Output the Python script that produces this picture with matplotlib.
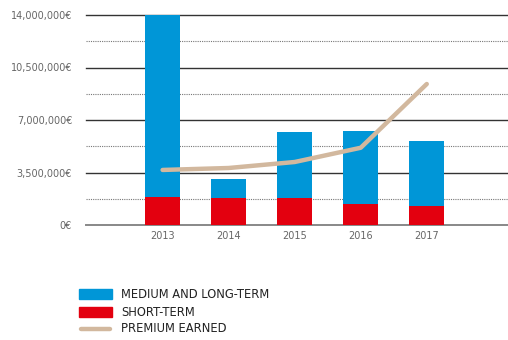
import matplotlib
matplotlib.use("Agg")
import matplotlib.pyplot as plt
from matplotlib.patches import Rectangle
from matplotlib.lines import Line2D

years = ["2013", "2014", "2015", "2016", "2017"]
short_term = [1.87e6, 1.82e6, 1.80e6, 1.42e6, 1.27e6]
medium_long_term = [12.13e6, 1.25e6, 4.40e6, 4.85e6, 4.33e6]
premium_earned = [3.67e6, 3.80e6, 4.20e6, 5.15e6, 9.40e6]
y_ticks = [0, 3.5e6, 7e6, 10.5e6, 14e6]
y_minor = [1.75e6, 5.25e6, 8.75e6, 12.25e6]
legend_labels = ["MEDIUM AND LONG-TERM", "SHORT-TERM", "PREMIUM EARNED"]

BLUE = "#0096d7"
RED = "#e3000f"
TAN = "#d2b89e"
FONT = "DejaVu Sans"

W, H = 508, 340
fig = plt.figure(figsize=(W / 100, H / 100), dpi=100)
ax = fig.add_axes([86 / W, 1 - 225 / H, 1 - 86 / W, 210 / H])

x = list(range(len(years)))
ax.bar(x, short_term, width=0.53, color=RED, zorder=3)
ax.bar(x, medium_long_term, width=0.53, bottom=short_term, color=BLUE, zorder=3)
ax.plot(x, premium_earned, color=TAN, lw=3.2, solid_capstyle="round",
        solid_joinstyle="round", zorder=4)

for v in y_ticks:
    ax.axhline(v, color="#333333" if v else "#888888", lw=1.0 if v else 1.4,
               zorder=1, clip_on=False)
for v in y_minor:
    ax.axhline(v, color="#777777", lw=0.8, ls=(0, (1, 1)), zorder=1)

ax.set_xlim(-1.16, 5.23)
ax.set_ylim(0, 14e6)
ax.set_yticks(y_ticks)
ax.set_yticklabels([f"{int(v):,}€" for v in y_ticks], fontsize=7.0,
                   color="#666666", family=FONT)
ax.set_xticks(x)
ax.set_xticklabels(years, fontsize=7.0, color="#666666", family=FONT)
ax.tick_params(length=0, pad=4)
ax.tick_params(axis="y", pad=10)
for s in ax.spines.values():
    s.set_visible(False)

# legend drawn in figure pixel coordinates
def fx(px):
    return px / W

def fy(py):
    return 1 - py / H

rows = [294, 312, 329]
fig.add_artist(Rectangle((fx(79), fy(299)), 33 / W, 10 / H, color=BLUE,
                         transform=fig.transFigure))
fig.add_artist(Rectangle((fx(79), fy(317)), 33 / W, 10 / H, color=RED,
                         transform=fig.transFigure))
fig.add_artist(Line2D([fx(81), fx(110)], [fy(329), fy(329)], color=TAN, lw=3.2,
                      solid_capstyle="round", transform=fig.transFigure))
for r, lab in zip(rows, legend_labels):
    fig.text(fx(121), fy(r), lab, fontsize=8.3, color="#222222", family=FONT,
             va="center", ha="left")

fig.savefig("out.png", dpi=100)
